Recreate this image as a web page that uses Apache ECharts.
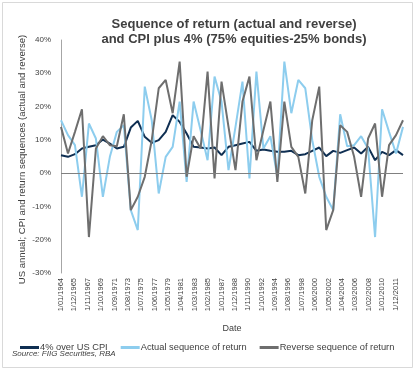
<!DOCTYPE html>
<html><head><meta charset="utf-8">
<script src="https://cdn.jsdelivr.net/npm/echarts@6/dist/echarts.min.js"></script>
<style>html,body{margin:0;padding:0;background:#fff}#c{width:416px;height:371px}</style>
</head><body><div id="c"></div>
<script>
// Yearly observations (January of each year)
const years = [1964,1965,1966,1967,1968,1969,1970,1971,1972,1973,1974,1975,1976,1977,1978,1979,1980,1981,1982,1983,1984,1985,1986,1987,1988,1989,1990,1991,1992,1993,1994,1995,1996,1997,1998,1999,2000,2001,2002,2003,2004,2005,2006,2007,2008,2009,2010,2011,2012,2013];
// Date-axis tick labels (every 23 months from Jan 1964)
const tickLabels = ['1/01/1964','1/12/1965','1/11/1967','1/10/1969','1/09/1971','1/08/1973','1/07/1975','1/06/1977','1/05/1979','1/04/1981','1/03/1983','1/02/1985','1/01/1987','1/12/1988','1/11/1990','1/10/1992','1/09/1994','1/08/1996','1/07/1998','1/06/2000','1/05/2002','1/04/2004','1/03/2006','1/02/2008','1/01/2010','1/12/2011'];
const cpiPlus4 = [5.4,4.9,5.7,7.4,7.9,8.4,10.1,8.9,7.4,7.9,13.7,15.7,10.9,9.1,9.9,12.4,17.4,15.4,11.9,7.9,7.7,7.4,7.7,5.4,7.9,8.4,8.9,9.4,6.7,7.1,6.7,6.4,6.4,6.7,5.4,5.7,6.7,7.7,5.1,6.7,6.1,6.9,7.7,5.9,7.9,3.9,6.4,5.4,6.9,5.4];
const actualSeq = [15.9,11.4,8.4,-7.1,14.9,10.4,-7.1,4.9,12.4,14.4,-11.1,-17.1,26.0,15.9,-6.1,4.9,7.9,21.5,-2.6,21.5,12.9,3.9,29.0,21.5,0.9,13.9,27.5,-1.6,30.5,7.4,11.1,-1.1,33.5,18.0,28.0,25.5,9.9,-1.1,-7.1,-11.1,17.7,8.1,8.4,11.1,7.4,-19.2,19.2,12.4,5.9,13.9];
const reverseSeq = [13.9,5.9,12.4,19.2,-19.2,7.4,11.1,8.4,8.1,17.7,-11.1,-7.1,-1.1,9.9,25.5,28.0,18.0,33.5,-1.1,11.1,7.4,30.5,-1.6,27.5,13.9,0.9,21.5,29.0,3.9,12.9,21.5,-2.6,21.5,7.9,4.9,-6.1,15.9,26.0,-17.1,-11.1,14.4,12.4,4.9,-7.1,10.4,14.9,-7.1,8.4,11.4,15.9];
const yAxisTitle = 'US annual; CPI and return sequences (actual and reverse)';

const monthIdx = y => (y - years[0]) * 12;
const toPts = arr => arr.map((v, i) => [monthIdx(years[i]), v]);

const chart = echarts.init(document.getElementById('c'), null, {renderer: 'canvas'});
const FONT = 'Liberation Sans, Arial, sans-serif';
chart.setOption({
  animation: false,
  backgroundColor: '#fff',
  graphic: [{
    type: 'rect', shape: {x: 2.5, y: 2.5, width: 410, height: 365},
    style: {fill: 'none', stroke: '#d9d9d9', lineWidth: 1}, silent: true
  }, {
    type: 'text', x: 22.5, y: 159.5, rotation: Math.PI / 2, silent: true,
    style: {text: yAxisTitle, align: 'center', verticalAlign: 'middle',
      fontFamily: FONT, fontSize: 9.6, fill: '#404040'}
  }],
  title: [{
    text: 'Sequence of return (actual and reverse)\nand CPI plus 4% (75% equities-25% bonds)',
    left: 234, top: 17, textAlign: 'center', padding: 0,
    textStyle: {fontFamily: FONT, fontSize: 13, fontWeight: 'bold', color: '#404040', lineHeight: 15}
  }, {
    text: 'Source: FIIG Securities, RBA',
    left: 12, top: 350, padding: 0,
    textStyle: {fontFamily: FONT, fontSize: 8, fontStyle: 'italic', fontWeight: 'normal', color: '#404040'}
  }],
  legend: {
    left: 20, top: 343, padding: 0, itemGap: 13, itemWidth: 19, itemHeight: 3, icon: 'rect',
    textStyle: {fontFamily: FONT, fontSize: 9.3, color: '#404040', padding: [0, 0, 0, -4]},
    data: ['4% over US CPI', 'Actual sequence of return', 'Reverse sequence of return']
  },
  grid: {left: 61, right: 13, top: 40, bottom: 98, containLabel: false},
  xAxis: {
    type: 'value', min: 0, max: monthIdx(years[years.length - 1]), interval: 23,
    name: 'Date', nameLocation: 'middle', nameGap: 51,
    nameTextStyle: {fontFamily: FONT, fontSize: 9, color: '#404040'},
    axisLine: {show: false}, axisTick: {show: false}, splitLine: {show: false},
    axisLabel: {
      rotate: 90, margin: 5, fontFamily: FONT, fontSize: 7.5, color: '#404040',
      showMaxLabel: false,
      formatter: v => (v % 23 === 0 && tickLabels[v / 23]) ? tickLabels[v / 23] : ''
    }
  },
  yAxis: {
    type: 'value', min: -30, max: 40, interval: 10,
    axisLine: {show: true, lineStyle: {color: '#a6a6a6', width: 1}},
    axisTick: {show: false}, splitLine: {show: false},
    axisLabel: {fontFamily: FONT, fontSize: 8, color: '#404040', margin: 10, formatter: '{value}%'}
  },
  series: [{
    name: '4% over US CPI', type: 'line', data: toPts(cpiPlus4),
    symbol: 'none', lineStyle: {color: '#0f2f52', width: 2}, itemStyle: {color: '#0f2f52'},
    markLine: {
      silent: true, symbol: 'none', label: {show: false},
      lineStyle: {color: '#808080', width: 1, type: 'solid'},
      data: [{yAxis: 0}]
    }
  }, {
    name: 'Actual sequence of return', type: 'line', data: toPts(actualSeq),
    symbol: 'none', lineStyle: {color: '#8dcdee', width: 2}, itemStyle: {color: '#8dcdee'}
  }, {
    name: 'Reverse sequence of return', type: 'line', data: toPts(reverseSeq),
    symbol: 'none', lineStyle: {color: '#6e6e6e', width: 2}, itemStyle: {color: '#6e6e6e'}
  }]
});
</script></body></html>
